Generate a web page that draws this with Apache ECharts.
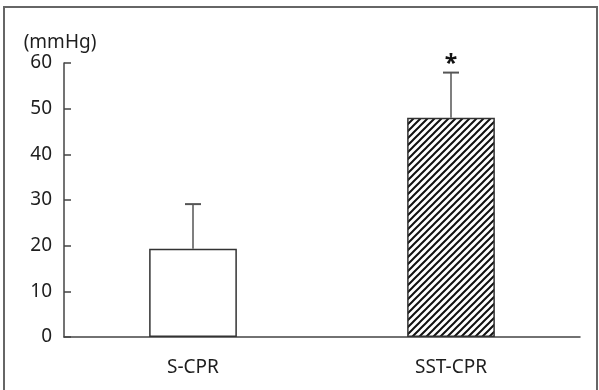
<!DOCTYPE html>
<html>
<head>
<meta charset="utf-8">
<script src="https://cdn.jsdelivr.net/npm/echarts@6/dist/echarts.min.js"></script>
<style>
  html, body { margin: 0; padding: 0; background: #fff; }
  #chart { width: 599px; height: 390px; }
</style>
</head>
<body>
<div id="chart"></div>
<script>
// data
var categories = ['S-CPR', 'SST-CPR'];
var means = [19.3, 48.0];
var sds = [9.8, 9.9];
var marks = ['', '*'];
var yMin = 0, yMax = 60, yStep = 10;

var FONT = '"Noto Sans", "Open Sans", sans-serif';
var INK = '#1e1e1e';

// diagonal hatch tile for the SST-CPR bar
function hatchTile() {
    var s = 7;
    var c = document.createElement('canvas');
    c.width = s; c.height = s;
    var ctx = c.getContext('2d');
    ctx.fillStyle = '#fff';
    ctx.fillRect(0, 0, s, s);
    ctx.strokeStyle = '#111';
    ctx.lineWidth = 2;
    ctx.beginPath();
    ctx.moveTo(-1, s + 1); ctx.lineTo(s + 1, -1);
    ctx.moveTo(-1, 1); ctx.lineTo(1, -1);
    ctx.moveTo(s - 1, s + 1); ctx.lineTo(s + 1, s - 1);
    ctx.stroke();
    return c;
}

var fills = ['#ffffff', { image: hatchTile(), repeat: 'repeat' }];

var barData = means.map(function (v, i) {
    return { value: v, itemStyle: { color: fills[i] } };
});
var errData = means.map(function (v, i) {
    return [i, v, sds[i], marks[i]];
});

var chart = echarts.init(document.getElementById('chart'));
var option = {
    animation: false,
    backgroundColor: '#fff',
    grid: { left: 64, right: 19, top: 63, bottom: 53 },
    graphic: [{
        type: 'rect',
        shape: { x: 4, y: 7, width: 593, height: 392 },
        style: { fill: 'none', stroke: '#666', lineWidth: 2 },
        silent: true
    }],
    xAxis: {
        type: 'category',
        data: categories,
        axisLine: { lineStyle: { color: '#444', width: 1.5 } },
        axisTick: { inside: true, length: 7, lineStyle: { color: '#444', width: 1.5 } },
        axisLabel: { color: INK, fontSize: 19, fontFamily: FONT, margin: 21 },
        splitLine: { show: false }
    },
    yAxis: {
        type: 'value',
        min: yMin,
        max: yMax,
        interval: yStep,
        name: '(mmHg)',
        nameLocation: 'end',
        nameGap: 11,
        nameTextStyle: { color: INK, fontSize: 19, fontFamily: FONT, padding: [0, 8, 0, 0] },
        axisLine: { show: true, lineStyle: { color: '#444', width: 1.5 } },
        axisTick: { show: true, inside: true, length: 7, lineStyle: { color: '#444', width: 1.5 } },
        axisLabel: { color: INK, fontSize: 19, fontFamily: FONT, margin: 12 },
        splitLine: { show: false }
    },
    series: [{
        type: 'bar',
        data: barData,
        barWidth: '34%',
        itemStyle: { borderColor: '#333', borderWidth: 1.5 }
    }, {
        type: 'custom',
        data: errData,
        z: 5,
        renderItem: function (params, api) {
            var i = api.value(0);
            var m = api.value(1);
            var sd = api.value(2);
            var lo = api.coord([i, m]);
            var hi = api.coord([i, m + sd]);
            var cap = 8;
            var kids = [{
                type: 'line',
                shape: { x1: lo[0], y1: lo[1], x2: hi[0], y2: hi[1] },
                style: { stroke: '#555', lineWidth: 1.5 }
            }, {
                type: 'line',
                shape: { x1: hi[0] - cap, y1: hi[1], x2: hi[0] + cap, y2: hi[1] },
                style: { stroke: '#555', lineWidth: 2 }
            }];
            var mk = marks[params.dataIndex];
            if (mk) {
                kids.push({
                    type: 'text',
                    style: {
                        text: mk, x: hi[0], y: hi[1] + 3,
                        align: 'center', verticalAlign: 'bottom',
                        fill: '#111', fontSize: 23, fontWeight: 'bold', fontFamily: FONT
                    }
                });
            }
            return { type: 'group', children: kids };
        }
    }]
};
chart.setOption(option);
</script>
</body>
</html>
